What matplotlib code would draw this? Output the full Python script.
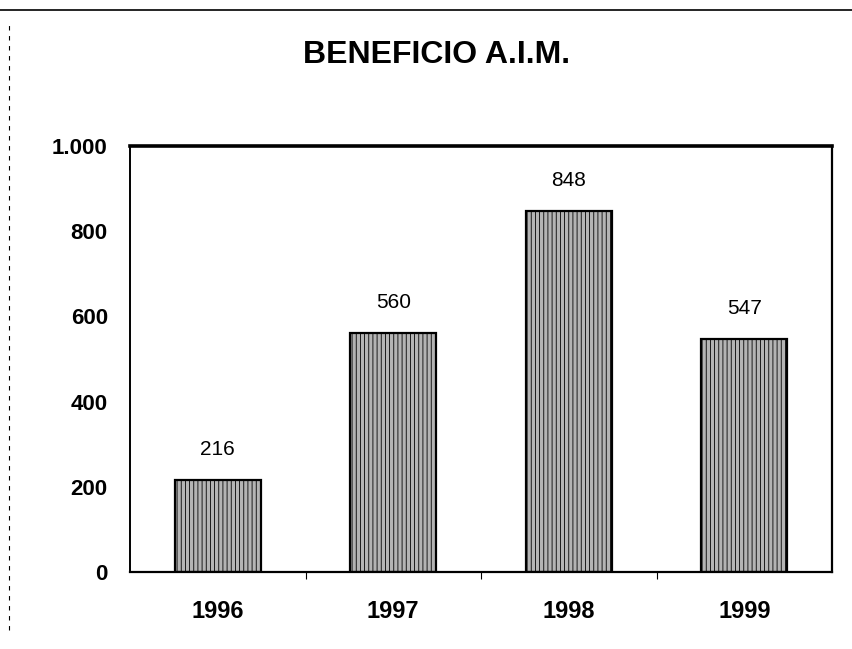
import matplotlib
matplotlib.use("Agg")
import matplotlib.pyplot as plt
from matplotlib.lines import Line2D
from matplotlib.ticker import FixedLocator, FuncFormatter

plt.rcParams['font.family'] = ['Liberation Sans', 'DejaVu Sans']
plt.rcParams['hatch.color'] = '#555555'
plt.rcParams['hatch.linewidth'] = 0.6

years = ['1996', '1997', '1998', '1999']
values = [216, 560, 848, 547]
yticks = [0, 200, 400, 600, 800, 1000]
title = 'BENEFICIO A.I.M.'

fig = plt.figure(figsize=(8.52, 6.49), dpi=100)
ax = fig.add_axes([130/852, 1 - 572/649, (832-130)/852, (572-146)/649])

x = list(range(len(years)))
ax.bar(x, values, width=0.49, facecolor='#b4b4b4', edgecolor='black',
       linewidth=1.6, hatch='||||', zorder=2)

for xi, v in zip(x, values):
    ax.annotate(str(v), (xi, v), xytext=(0, 22), textcoords='offset points',
                ha='center', va='center', fontsize=15)

ax.set_xlim(-0.5, 3.5)
ax.set_ylim(0, 1000)
ax.set_yticks(yticks)
ax.yaxis.set_major_formatter(FuncFormatter(lambda v, p: f"{int(v):,}".replace(',', '.')))
ax.tick_params(axis='y', length=0, pad=16, labelsize=16)
for lab in ax.get_yticklabels():
    lab.set_fontweight('bold')

ax.set_xticks(x)
ax.set_xticklabels(years, fontsize=17, fontweight='bold')
ax.tick_params(axis='x', length=0, pad=20)
ax.xaxis.set_minor_locator(FixedLocator([0.5, 1.5, 2.5]))
ax.tick_params(axis='x', which='minor', length=5, width=0.8, direction='out')

ax.spines['top'].set_linewidth(2.6)
ax.spines['right'].set_linewidth(1.6)
ax.spines['left'].set_linewidth(1.4)
ax.spines['bottom'].set_linewidth(1.6)

fig.text(437/852, 1 - 55/649, title, ha='center', va='center',
         fontsize=23, fontweight='bold')

# scanned page frame: top rule and dotted left edge
fig.add_artist(Line2D([0, 1], [1 - 10/649, 1 - 10/649], color='black',
                      linewidth=1.2, transform=fig.transFigure))
fig.add_artist(Line2D([9/852, 9/852], [1 - 630/649, 1 - 20/649], color='black',
                      linewidth=0.8, linestyle=(0, (4, 5)), transform=fig.transFigure))

fig.savefig('out.png', dpi=100)
